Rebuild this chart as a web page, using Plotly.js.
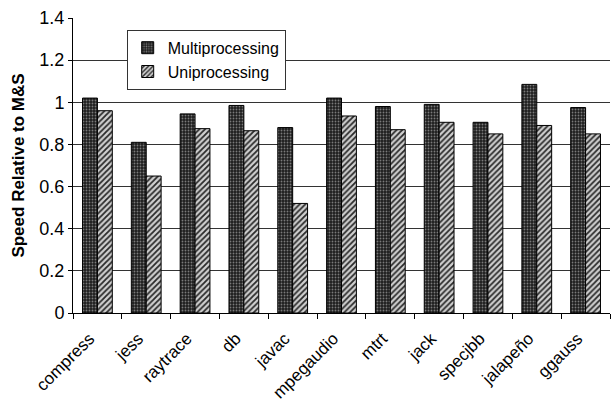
<!DOCTYPE html>
<html><head><meta charset="utf-8">
<script src="https://cdn.plot.ly/plotly-3.0.1.min.js"></script>
<style>html,body{margin:0;padding:0;background:#fff}#chart{width:611px;height:402px}</style>
</head><body><div id="chart"></div>
<script>
const categories = ["compress","jess","raytrace","db","javac","mpegaudio","mtrt","jack","specjbb","jalapeño","ggauss"];
const multiprocessing = [1.02,0.81,0.945,0.985,0.88,1.02,0.98,0.99,0.905,1.085,0.975];
const uniprocessing = [0.96,0.65,0.875,0.865,0.52,0.935,0.87,0.905,0.85,0.89,0.85];
const yTicks = [0,0.2,0.4,0.6,0.8,1,1.2,1.4];

const font = "Arial, 'Liberation Sans', sans-serif";
const traces = [
  {type:"bar", name:"Multiprocessing", x:categories, y:multiprocessing,
   marker:{color:"#222", line:{color:"#000", width:1},
     pattern:{shape:".", fgcolor:"#7a7a7a", bgcolor:"#1e1e1e", size:3, solidity:0.3}}},
  {type:"bar", name:"Uniprocessing", x:categories, y:uniprocessing,
   marker:{color:"#ccc", line:{color:"#000", width:1},
     pattern:{shape:"/", fgcolor:"#2a2a2a", bgcolor:"#d0d0d0", size:4, solidity:0.45}}}
];
const layout = {
  width:611, height:402,
  margin:{l:73, r:1, t:18, b:89},
  paper_bgcolor:"#fff", plot_bgcolor:"#fff",
  font:{family:font, color:"#000", size:17},
  barmode:"group", bargap:0.39, bargroupgap:0,
  showlegend:true,
  legend:{x:0.1, y:0.96, xanchor:"left", yanchor:"top", bgcolor:"#fff",
    bordercolor:"#333", borderwidth:1, font:{size:16, family:font},
    tracegroupgap:0, itemwidth:30},
  xaxis:{type:"category", tickangle:-45, ticks:"outside", tickson:"boundaries",
    ticklen:5, tickcolor:"#000", showline:true, linecolor:"#000", linewidth:1,
    tickfont:{size:17}, showgrid:false, ticklabelstandoff:8, ticklabelshift:-8},
  yaxis:{range:[0,1.4], tickvals:yTicks, ticktext:yTicks.map(String),
    showgrid:true, gridcolor:"#333", gridwidth:1, showline:true, linecolor:"#000",
    ticks:"outside", ticklen:4, tickcolor:"#000", tickfont:{size:18}, zeroline:false,
    title:{text:"<b>Speed Relative to M&amp;S</b>", font:{size:17}, standoff:10}}
};
Plotly.newPlot("chart", traces, layout, {displayModeBar:false, staticPlot:true});
</script></body></html>
